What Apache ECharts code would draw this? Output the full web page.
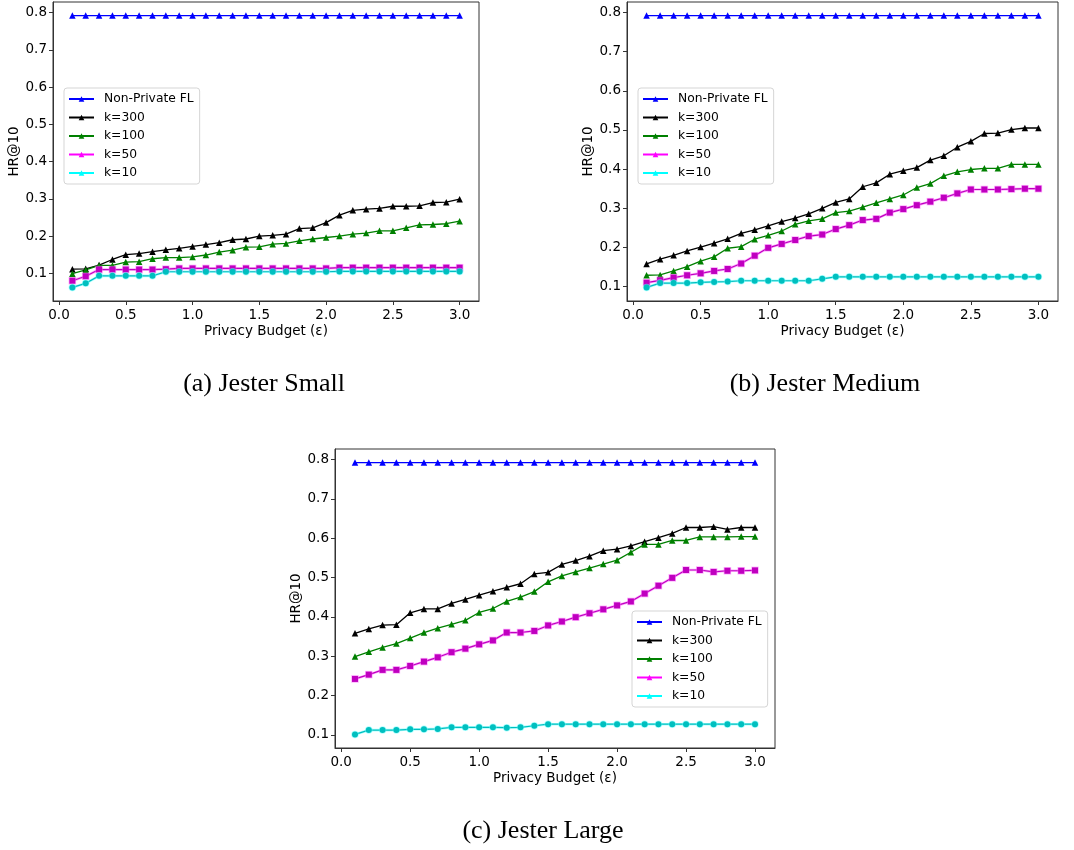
<!DOCTYPE html>
<html><head><meta charset="utf-8">
<script src="https://cdn.jsdelivr.net/npm/echarts@6/dist/echarts.min.js"></script>
<style>html,body{margin:0;padding:0;background:#fff}#c{width:1074px;height:850px}</style>
</head><body><div id="c"></div>
<script>
// ---------- data ----------
const epsilon = [0.1,0.2,0.3,0.4,0.5,0.6,0.7,0.8,0.9,1.0,1.1,1.2,1.3,1.4,1.5,1.6,1.7,1.8,1.9,2.0,2.1,2.2,2.3,2.4,2.5,2.6,2.7,2.8,2.9,3.0];
const xTicks = [0.0,0.5,1.0,1.5,2.0,2.5,3.0];
const yTicks = [0.1,0.2,0.3,0.4,0.5,0.6,0.7,0.8];
const seriesNames = ['Non-Private FL','k=300','k=100','k=50','k=10'];
const captions = ['(a) Jester Small','(b) Jester Medium','(c) Jester Large'];
const xAxisTitle = 'Privacy Budget (ε)';
const yAxisTitle = 'HR@10';

const nonPrivate = [0.792,0.792,0.792,0.792,0.792,0.792,0.792,0.792,0.792,0.792,0.792,0.792,0.792,0.792,0.792,0.792,0.792,0.792,0.792,0.792,0.792,0.792,0.792,0.792,0.792,0.792,0.792,0.792,0.792,0.792];

const small300 = [0.111,0.112,0.122,0.137,0.150,0.153,0.158,0.163,0.167,0.172,0.177,0.182,0.190,0.192,0.200,0.202,0.205,0.220,0.222,0.236,0.256,0.269,0.272,0.274,0.280,0.280,0.281,0.290,0.291,0.299];
const small100 = [0.099,0.109,0.121,0.121,0.130,0.131,0.139,0.142,0.142,0.144,0.149,0.157,0.162,0.170,0.171,0.178,0.180,0.187,0.192,0.196,0.200,0.205,0.208,0.214,0.214,0.222,0.230,0.231,0.233,0.240];
const small50  = [0.080,0.092,0.110,0.110,0.110,0.110,0.110,0.111,0.113,0.113,0.113,0.113,0.113,0.113,0.113,0.113,0.113,0.113,0.113,0.113,0.115,0.115,0.115,0.115,0.115,0.115,0.115,0.115,0.115,0.115];
const small10  = [0.062,0.073,0.093,0.093,0.093,0.093,0.093,0.104,0.104,0.104,0.104,0.104,0.104,0.104,0.104,0.104,0.104,0.104,0.104,0.104,0.105,0.105,0.105,0.105,0.105,0.105,0.105,0.105,0.105,0.105];

const medium300 = [0.158,0.170,0.180,0.191,0.201,0.211,0.222,0.236,0.245,0.255,0.266,0.275,0.286,0.300,0.315,0.324,0.355,0.365,0.387,0.396,0.404,0.423,0.434,0.456,0.471,0.491,0.492,0.501,0.505,0.505];
const medium100 = [0.129,0.130,0.140,0.151,0.165,0.176,0.198,0.202,0.221,0.231,0.242,0.259,0.268,0.273,0.289,0.293,0.303,0.314,0.324,0.334,0.353,0.363,0.383,0.393,0.399,0.402,0.402,0.412,0.412,0.412];
const medium50  = [0.110,0.116,0.123,0.129,0.134,0.140,0.145,0.159,0.179,0.199,0.209,0.219,0.229,0.233,0.247,0.257,0.270,0.273,0.289,0.298,0.308,0.317,0.327,0.338,0.348,0.348,0.348,0.349,0.350,0.350];
const medium10  = [0.098,0.109,0.109,0.109,0.111,0.112,0.113,0.115,0.115,0.115,0.115,0.115,0.115,0.120,0.125,0.125,0.125,0.125,0.125,0.125,0.125,0.125,0.125,0.125,0.125,0.125,0.125,0.125,0.125,0.125];

const large300 = [0.358,0.369,0.379,0.380,0.410,0.420,0.420,0.434,0.444,0.455,0.465,0.475,0.484,0.509,0.513,0.533,0.543,0.554,0.568,0.572,0.580,0.591,0.601,0.612,0.627,0.627,0.629,0.622,0.627,0.627];
const large100 = [0.299,0.311,0.322,0.332,0.346,0.360,0.371,0.381,0.391,0.411,0.421,0.439,0.450,0.464,0.489,0.504,0.514,0.524,0.534,0.544,0.564,0.584,0.584,0.594,0.594,0.603,0.603,0.603,0.604,0.604];
const large50  = [0.242,0.253,0.265,0.265,0.275,0.286,0.297,0.310,0.319,0.330,0.340,0.360,0.360,0.364,0.378,0.388,0.399,0.409,0.419,0.429,0.439,0.459,0.479,0.499,0.519,0.519,0.514,0.517,0.517,0.518];
const large10  = [0.101,0.112,0.112,0.112,0.114,0.114,0.115,0.119,0.119,0.119,0.119,0.118,0.119,0.123,0.127,0.127,0.127,0.127,0.127,0.127,0.127,0.127,0.127,0.127,0.127,0.127,0.127,0.127,0.127,0.127];

// ---------- layout / style ----------
const panels = [
  {data:[nonPrivate,small300,small100,small50,small10],  grid:{left:53, top:2, width:426, height:299}, legend:{left:64, top:88}, cap:{x:264, y:371}},
  {data:[nonPrivate,medium300,medium100,medium50,medium10], grid:{left:627, top:2, width:431, height:299}, legend:{left:638, top:88}, cap:{x:825, y:371}},
  {data:[nonPrivate,large300,large100,large50,large10],  grid:{left:335, top:449, width:440, height:299}, legend:{left:632, top:611}, cap:{x:543, y:818}}
];
const FONT = 'DejaVu Sans';
const AX = '#333';
const pairs = arr => epsilon.map((x, j) => [x, arr[j]]);

const option = {animation:false, backgroundColor:'#fff', grid:[], xAxis:[], yAxis:[], legend:[], title:[], series:[]};

panels.forEach((p, i) => {
  option.grid.push(Object.assign({show:true, borderColor:AX, borderWidth:1, backgroundColor:'transparent'}, p.grid));
  const xs = epsilon, xr = xs[xs.length-1] - xs[0];
  const all = [].concat(...p.data);
  const ymin = Math.min(...all), ymax = Math.max(...all), yr = ymax - ymin;
  const labelStyle = {color:'#000', fontFamily:FONT, fontSize:13.5};
  option.xAxis.push({
    type:'value', gridIndex:i, min:xs[0]-0.05*xr, max:xs[xs.length-1]+0.05*xr,
    name:xAxisTitle, nameLocation:'middle', nameGap:23, nameTextStyle:{color:'#000', fontFamily:FONT, fontSize:13.5},
    axisLine:{show:true, onZero:false, lineStyle:{color:AX, width:1}},
    axisTick:{show:true, length:4, inside:false, customValues:xTicks, lineStyle:{color:AX}},
    axisLabel:Object.assign({customValues:xTicks, margin:7, formatter:v=>v.toFixed(1)}, labelStyle),
    splitLine:{show:false}
  });
  option.yAxis.push({
    type:'value', gridIndex:i, min:ymin-0.05*yr, max:ymax+0.05*yr,
    name:yAxisTitle, nameLocation:'middle', nameRotate:90, nameGap:29, nameTextStyle:{color:'#000', fontFamily:FONT, fontSize:13.5},
    axisLine:{show:true, onZero:false, lineStyle:{color:AX, width:1}},
    axisTick:{show:true, length:4, inside:false, customValues:yTicks, lineStyle:{color:AX}},
    axisLabel:Object.assign({customValues:yTicks, margin:6, formatter:v=>v.toFixed(1)}, labelStyle),
    splitLine:{show:false}
  });
  option.legend.push({
    data:seriesNames, orient:'vertical', left:p.legend.left, top:p.legend.top,
    itemWidth:25, itemHeight:7, itemGap:4.5, padding:[4,6,4,4],
    borderColor:'#d5d5d5', borderWidth:1, borderRadius:3, backgroundColor:'rgba(255,255,255,0.85)',
    selectedMode:false,
    textStyle:{color:'#000', fontFamily:FONT, fontSize:12.3, lineHeight:14, padding:[0,0,0,5]}
  });
  option.title.push({
    text:captions[i], left:p.cap.x, top:p.cap.y, textAlign:'center', padding:0,
    textStyle:{fontFamily:'Liberation Serif', fontWeight:'normal', fontSize:26, color:'#000'}
  });
  const base = {type:'line', xAxisIndex:i, yAxisIndex:i, showSymbol:true, silent:true};
  const tri = (name, color, arr) => Object.assign({}, base, {
    name, data:pairs(arr), color, symbol:'triangle', symbolSize:6.5,
    lineStyle:{color, width:1.3}, itemStyle:{color}
  });
  option.series.push(tri('Non-Private FL', '#0000ff', p.data[0]));
  option.series.push(tri('k=300', '#000000', p.data[1]));
  option.series.push(tri('k=100', '#008000', p.data[2]));
  // legend entries for k=50 / k=10 (bright triangles, no points)
  option.series.push(Object.assign({}, base, {name:'k=50', data:[], color:'#ff00ff', symbol:'triangle', lineStyle:{color:'#ff00ff', width:1.5}, itemStyle:{color:'#ff00ff'}}));
  option.series.push(Object.assign({}, base, {name:'k=10', data:[], color:'#00ffff', symbol:'triangle', lineStyle:{color:'#00ffff', width:1.5}, itemStyle:{color:'#00ffff'}}));
  // plotted k=50 / k=10 curves: light halo + darker markers
  const marked = (name, halo, color, symbol, arr) => {
    option.series.push(Object.assign({}, base, {name:name+' halo', data:pairs(arr), color:halo, symbol, symbolSize:7.5,
      lineStyle:{color:halo, width:2.6, opacity:0.55}, itemStyle:{color:halo, opacity:0.55}}));
    option.series.push(Object.assign({}, base, {name:name+' line', data:pairs(arr), color, symbol, symbolSize:6,
      lineStyle:{color, width:1.2}, itemStyle:{color}}));
  };
  marked('k=50', '#ff66ff', '#bf00bf', 'rect', p.data[3]);
  marked('k=10', '#66ffff', '#00bfbf', 'circle', p.data[4]);
});

const chart = echarts.init(document.getElementById('c'), null, {renderer:'canvas'});
chart.setOption(option);
</script>
</body></html>
